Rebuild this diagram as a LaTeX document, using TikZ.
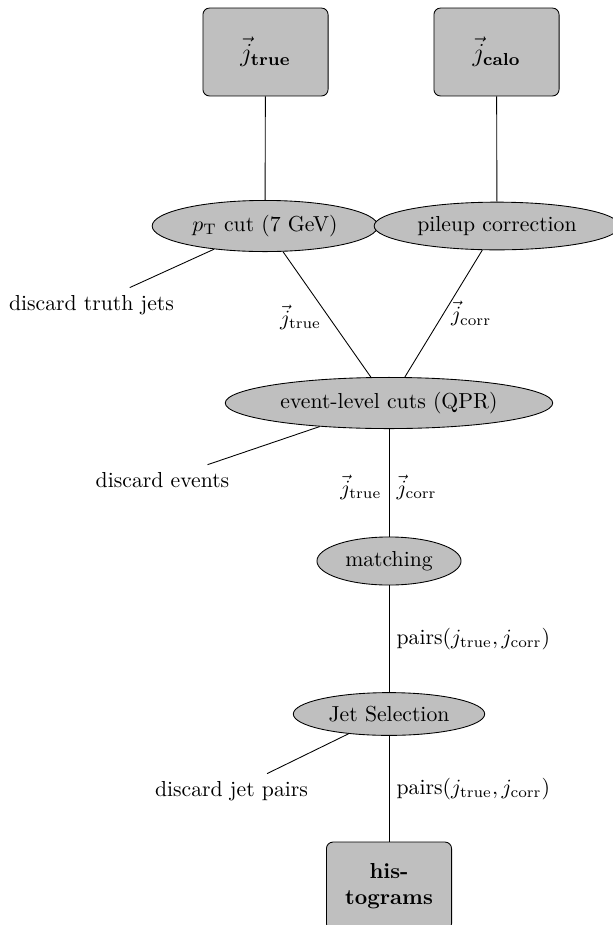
\documentclass[tikz,border=0pt]{standalone}
\usepackage{amsmath}
\usepackage{tikz}
\usetikzlibrary{shapes.geometric}
\tikzset{
  procbox/.style={draw, fill=lightgray, rounded corners=3pt, text width=51pt, minimum height=40.5pt, align=center, inner sep=3.33pt},
  procell/.style={draw, fill=lightgray, ellipse},
  plaintext/.style={inner sep=3.33pt},
  conn/.style={draw=black, line width=0.4pt}
}
\begin{document}
\begin{tikzpicture}[x=0.4608pt, y=-0.4608pt]
\useasboundingbox (0,0) rectangle (612,925);
% boxes
\node[procbox, font=\large] (jt) at (265.5,52) {$\vec{j}_{\textbf{true}}$};
\node[procbox, font=\large] (jc) at (496.5,52) {$\vec{j}_{\textbf{calo}}$};
\node[procbox, font=\bfseries] (hist) at (389,886) {his-\\tograms};
% ellipses
\node[procell] (pt) at (265,226) {$p_\mathrm{T}$ cut (7 GeV)};
\node[procell] (pu) at (497,226) {pileup correction};
\node[procell] (ev) at (389,403) {event-level cuts (QPR)};
\node[procell] (ma) at (389,561) {matching};
\node[procell] (js) at (389,714) {Jet Selection};
% discard texts
\node[plaintext] (d1) at (91.5,305) {discard truth jets};
\node[plaintext] (d2) at (162.5,480) {discard events};
\node[plaintext] (d3) at (231.5,791) {discard jet pairs};
% connectors
\draw[conn] (jt) -- (pt);
\draw[conn] (jc) -- (pu);
\draw[conn] (d1) -- (pt);
\draw[conn] (pt) -- node[left, pos=0.52] {$\vec{j}_\mathrm{true}$} (ev);
\draw[conn] (pu) -- node[right, pos=0.5] {$\vec{j}_\mathrm{corr}$} (ev);
\draw[conn] (d2) -- (ev);
\draw[conn] (ev) -- node[left, pos=0.54] {$\vec{j}_\mathrm{true}$} (ma);
\draw[conn] (ev) -- node[right, pos=0.54] {$\vec{j}_\mathrm{corr}$} (ma);
\draw[conn] (ma) -- node[right] {pairs$(j_\mathrm{true}, j_\mathrm{corr})$} (js);
\draw[conn] (d3) -- (js);
\draw[conn] (js) -- node[right] {pairs$(j_\mathrm{true}, j_\mathrm{corr})$} (hist);
\end{tikzpicture}
\end{document}
